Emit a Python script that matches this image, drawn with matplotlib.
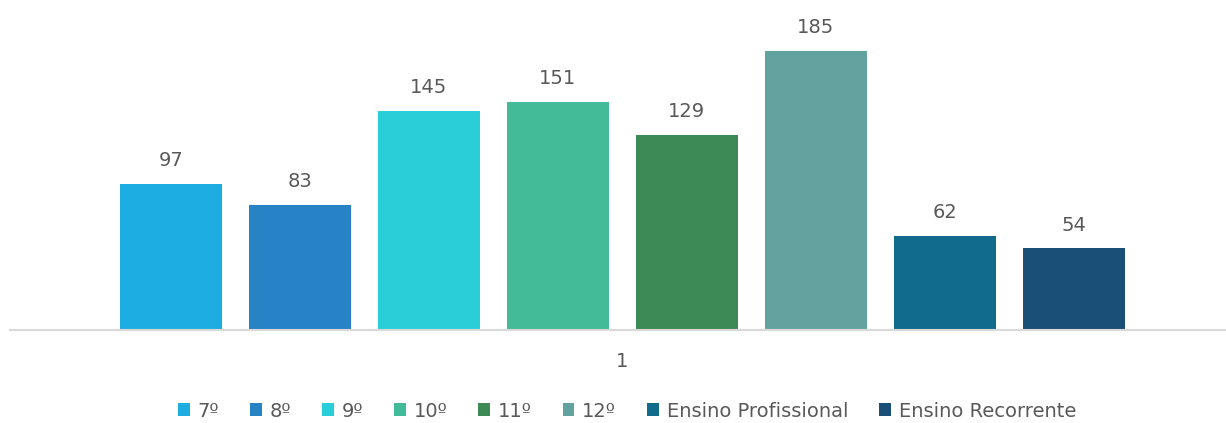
import matplotlib
matplotlib.use("Agg")
import matplotlib.pyplot as plt
from matplotlib.patches import Patch

# data
categorias = ["7º", "8º", "9º", "10º", "11º", "12º",
              "Ensino Profissional", "Ensino Recorrente"]
valores = [97, 83, 145, 151, 129, 185, 62, 54]
cores = ["#1EADE3", "#2882C6", "#29CED8", "#43BB98", "#3E8A54",
         "#62A39F", "#116B8A", "#1A4F77"]

W, H = 1226, 423
plt.rcParams['font.family'] = ['DejaVu Sans']
fig = plt.figure(figsize=(W / 100, H / 100), dpi=100)
ax = fig.add_axes([10 / W, 1 - 330 / H, 1216 / W, 302 / H])

cinza = "#595959"
fs = 14

x = list(range(len(valores)))
ax.bar(x, valores, width=0.79, color=cores)
for xi, v in zip(x, valores):
    ax.annotate(str(v), (xi, v), xytext=(0, 10), textcoords="offset points",
                ha="center", va="bottom", fontsize=fs, color=cinza)

ax.set_xlim(-1.248, 8.18)
ax.set_ylim(0, 200)
for s in ["top", "right", "left"]:
    ax.spines[s].set_visible(False)
ax.spines["bottom"].set_color("#D9D9D9")
ax.spines["bottom"].set_linewidth(1.5)
ax.set_yticks([])
ax.set_xticks([3.5])
ax.set_xticklabels(["1"], fontsize=fs, color=cinza)
ax.tick_params(axis="x", length=0, pad=16)

handles = [Patch(facecolor=c, label=l) for c, l in zip(cores, categorias)]
leg = fig.legend(handles=handles, loc="center", ncol=8,
                 bbox_to_anchor=(627 / W, 1 - 411 / H), frameon=False,
                 prop={"size": fs},
                 handlelength=0.6, handleheight=0.6, handletextpad=0.4,
                 columnspacing=1.6)
for t in leg.get_texts():
    t.set_color(cinza)

fig.savefig("out.png", dpi=100)
